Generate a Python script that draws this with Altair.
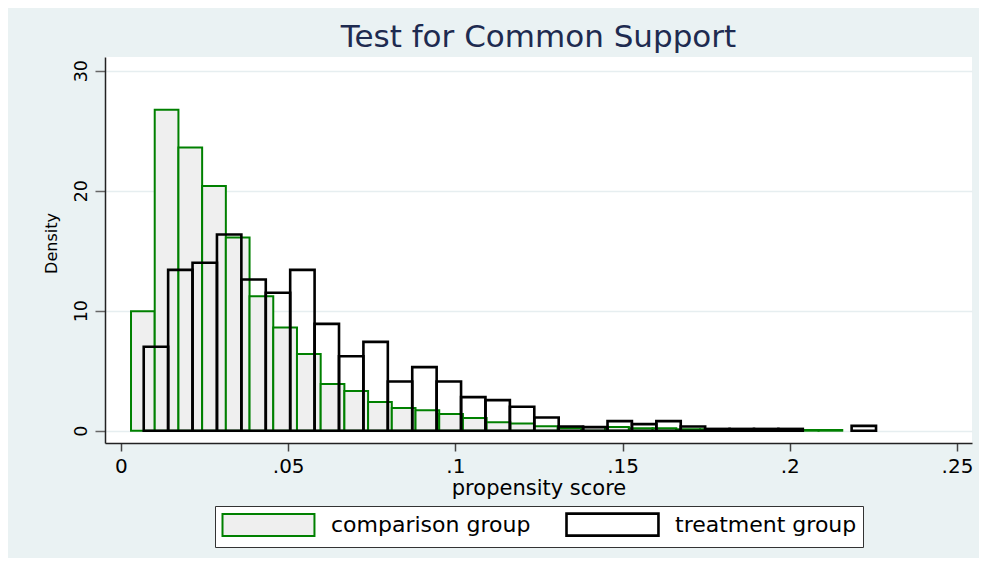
import altair as alt
import pandas as pd

# ---- data ----
groups = ["comparison group", "treatment group"]

comparison_density = [9.95, 26.75, 23.6, 20.4, 16.1, 11.2, 8.6, 6.4, 3.9, 3.3,
                      2.4, 1.9, 1.7, 1.4, 1.05, 0.7, 0.6, 0.37, 0.23, 0.3,
                      0.3, 0.2, 0.2, 0.12, 0.12, 0.1, 0.1, 0.08, 0.06, 0.06]
treatment_density = [7.0, 13.4, 14.0, 16.35, 12.6, 11.5, 13.4, 8.9, 6.2, 7.4,
                     4.1, 5.3, 4.1, 2.8, 2.55, 2.0, 1.1, 0.35, 0.3, 0.8,
                     0.55, 0.8, 0.35, 0.15, 0.15, 0.15, 0.15, 0.0, 0.0, 0.4]

comparison_bin_start = 0.0030
comparison_bin_width = 0.00709
treatment_bin_start = 0.0068
treatment_bin_width = 0.0073

x_ticks = [0, 0.05, 0.1, 0.15, 0.2, 0.25]
y_ticks = [0, 10, 20, 30]

# ---- table ----
rows = []
for g, start, width, dens in [
    (groups[0], comparison_bin_start, comparison_bin_width, comparison_density),
    (groups[1], treatment_bin_start, treatment_bin_width, treatment_density),
]:
    for i, d in enumerate(dens):
        if d > 0:
            rows.append({"group": g, "x0": start + i * width,
                         "x1": start + (i + 1) * width,
                         "density": d, "base": 0.0})
df = pd.DataFrame(rows)

FONT = "DejaVu Sans"

legend = alt.Legend(
    title=None,
    orient="none",
    legendX=110,
    legendY=449,
    direction="horizontal",
    columns=2,
    columnPadding=30,
    symbolType="M-1,-1H7.36V1H-1Z",
    symbolSize=484,
    symbolStrokeWidth=2,
    labelOffset=85,
    labelFont=FONT,
    labelFontSize=22,
    labelColor="#000000",
    labelLimit=400,
    fillColor="#ffffff",
    strokeColor="#333333",
    padding=6,
)

bars = alt.Chart(df).mark_rect(strokeJoin="miter").encode(
    x=alt.X("x0:Q",
            scale=alt.Scale(domain=[-0.00478, 0.2545], nice=False, zero=False),
            axis=alt.Axis(
                values=x_ticks,
                labelExpr="datum.value == 0 ? '0' : slice(format(datum.value, '.2~f'), 1)",
                title="propensity score",
                titleFont=FONT, titleFontSize=21, titleFontWeight="normal",
                titleColor="#000000",
                titleY=51, titleBaseline="alphabetic",
                labelFont=FONT, labelFontSize=20, labelColor="#000000",
                labelBaseline="alphabetic", labelPadding=21,
                tickSize=8, tickColor="#444444", tickWidth=1.5,
                domainColor="#222222", domainWidth=1.5,
                grid=False, labelFlush=False, labelOverlap=False,
            )),
    x2="x1:Q",
    y=alt.Y("density:Q",
            scale=alt.Scale(domain=[-1.025, 31.14], nice=False, zero=False),
            axis=alt.Axis(
                values=y_ticks,
                title="Density",
                titleFont=FONT, titleFontSize=16, titleFontWeight="normal",
                titleColor="#000000",
                titleAngle=270, titleAlign="center", titleBaseline="alphabetic",
                titleX=-49, titleY=186,
                labelFont=FONT, labelFontSize=17.5, labelColor="#000000",
                labelAngle=270, labelAlign="center", labelBaseline="alphabetic",
                labelPadding=9,
                tickSize=10, tickColor="#666666", tickWidth=1.5,
                domainColor="#222222", domainWidth=1.5,
                grid=True, gridColor="#e6eef0", gridWidth=1.5,
                labelFlush=False, labelOverlap=False,
            )),
    y2="base:Q",
    fill=alt.Fill("group:N",
                  scale=alt.Scale(domain=groups, range=["#efefef", "transparent"]),
                  legend=legend),
    stroke=alt.Stroke("group:N",
                      scale=alt.Scale(domain=groups, range=["#008000", "#000000"]),
                      legend=legend),
    strokeWidth=alt.StrokeWidth("group:N",
                                scale=alt.Scale(domain=groups, range=[2.0, 2.6]),
                                legend=None),
)

chart = bars.properties(
    width=867,
    height=386,
    autosize=alt.AutoSizeParams(type="none"),
    padding={"left": 97, "top": 49, "right": 7, "bottom": 115},
    background="#eaf2f3",
    title=alt.TitleParams(
        "Test for Common Support",
        font=FONT, fontSize=31, fontWeight="normal", color="#1e2b50",
        anchor="middle", baseline="alphabetic", offset=-21,
    ),
).configure_view(fill="#ffffff", stroke=None)

chart.save("out.html", embed_options={"renderer": "svg", "actions": False})
